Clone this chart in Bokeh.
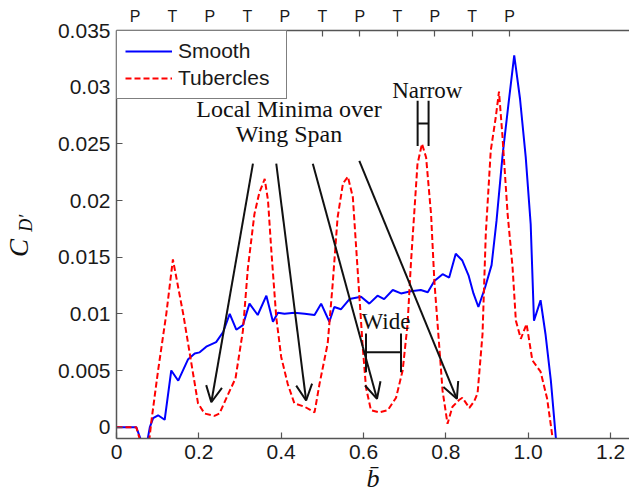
from bokeh.plotting import figure
from bokeh.models import (Range1d, LinearAxis, FixedTicker, Legend, LegendItem,
                          Label, Arrow, OpenHead)
from bokeh.embed import file_html
from bokeh.resources import INLINE

# ---------------- data ----------------
smooth_x = [0.000, 0.048, 0.064, 0.072, 0.081, 0.089, 0.101, 0.117, 0.133, 0.150,
            0.174, 0.190, 0.202, 0.218, 0.242, 0.259, 0.275, 0.291, 0.307, 0.323,
            0.343, 0.364, 0.380, 0.392, 0.408, 0.432, 0.457, 0.481, 0.497, 0.517,
            0.529, 0.545, 0.566, 0.594, 0.614, 0.634, 0.650, 0.671, 0.691, 0.715,
            0.739, 0.756, 0.772, 0.792, 0.808, 0.824, 0.840, 0.855, 0.867, 0.879,
            0.895, 0.911, 0.923, 0.938, 0.952, 0.966, 0.980, 0.994, 1.006, 1.014,
            1.030, 1.042, 1.055, 1.067, 1.072]
smooth_y = [0.0000, 0.0000, -0.0016, -0.0018, 0.0000, 0.0008, 0.00105, 0.00065, 0.0050, 0.0041,
            0.0060, 0.0065, 0.0066, 0.0071, 0.0075, 0.0084, 0.0100, 0.0086, 0.0090, 0.0109,
            0.0099, 0.0116, 0.0093, 0.0101, 0.0100, 0.0101, 0.0100, 0.0099, 0.0109, 0.0093,
            0.0106, 0.0104, 0.0113, 0.0115, 0.0109, 0.0116, 0.0113, 0.0121, 0.0118, 0.0120,
            0.0121, 0.0119, 0.0129, 0.0135, 0.0132, 0.0153, 0.0147, 0.0134, 0.0118, 0.0106,
            0.0123, 0.0143, 0.0182, 0.0241, 0.0285, 0.0328, 0.0290, 0.0238, 0.0179, 0.0094,
            0.0112, 0.0082, 0.0041, -0.0009, -0.0020]

tub_x = [0.000, 0.048, 0.060, 0.072, 0.080, 0.085, 0.093, 0.101, 0.121, 0.137,
         0.162, 0.182, 0.198, 0.214, 0.238, 0.250, 0.271, 0.289, 0.307, 0.319,
         0.335, 0.347, 0.360, 0.368, 0.376, 0.388, 0.400, 0.416, 0.432, 0.457,
         0.481, 0.493, 0.513, 0.525, 0.537, 0.550, 0.562, 0.574, 0.582, 0.590,
         0.598, 0.606, 0.618, 0.638, 0.659, 0.679, 0.695, 0.707, 0.715, 0.723,
         0.731, 0.742, 0.752, 0.764, 0.772, 0.784, 0.792, 0.804, 0.816, 0.832,
         0.840, 0.857, 0.869, 0.877, 0.889, 0.897, 0.909, 0.921, 0.929, 0.937,
         0.950, 0.962, 0.970, 0.982, 0.996, 1.010, 1.030, 1.046, 1.059, 1.063]
tub_y = [0.0000, 0.0000, -0.0015, -0.0020, -0.0010, 0.0006, 0.0028, 0.0050, 0.0100, 0.0148,
         0.0100, 0.0056, 0.0021, 0.0012, 0.0010, 0.0012, 0.0029, 0.0043, 0.0085, 0.0140,
         0.0188, 0.0207, 0.0219, 0.0200, 0.0156, 0.0097, 0.0062, 0.0038, 0.0021, 0.0018,
         0.0013, 0.0038, 0.0074, 0.0126, 0.0185, 0.0215, 0.0221, 0.0203, 0.0159, 0.0115,
         0.0071, 0.0035, 0.0015, 0.0013, 0.0015, 0.0026, 0.0050, 0.0091, 0.0144, 0.0188,
         0.0232, 0.0250, 0.0238, 0.0188, 0.0129, 0.0071, 0.0032, 0.0003, 0.0018, 0.0024,
         0.0026, 0.0017, 0.0023, 0.0030, 0.0082, 0.0171, 0.0244, 0.0273, 0.0296, 0.0259,
         0.0188, 0.0141, 0.0094, 0.0078, 0.0091, 0.0059, 0.0049, 0.0025, -0.0009, -0.0020]

x_ticks = [0, 0.2, 0.4, 0.6, 0.8, 1.0, 1.2]
x_tick_labels = ["0", "0.2", "0.4", "0.6", "0.8", "1.0", "1.2"]
y_ticks = [0, 0.005, 0.01, 0.015, 0.02, 0.025, 0.03, 0.035]
y_tick_labels = ["0", "0.005", "0.01", "0.015", "0.02", "0.025", "0.03", "0.035"]
top_ticks = [0.045, 0.136, 0.227, 0.318, 0.409, 0.500, 0.591, 0.682, 0.773, 0.864, 0.955]
top_tick_labels = ["P", "T", "P", "T", "P", "T", "P", "T", "P", "T", "P"]

NB = "\u00a0"

# ---------------- figure ----------------
p = figure(width=629, height=498, x_range=Range1d(0, 1.246), y_range=Range1d(-0.001, 0.035),
           output_backend="svg", toolbar_location=None,
           min_border_left=115, min_border_right=0, min_border_top=30, min_border_bottom=60)
p.grid.visible = False
p.outline_line_color = None
p.background_fill_color = "white"
p.border_fill_color = "white"

SANS = "Liberation Sans"
SERIF = "Liberation Serif"
AX_COLOR = "#555555"
INK = "#111111"


def style_axis(ax, size="21px", standoff=8):
    ax.axis_line_color = AX_COLOR
    ax.axis_line_width = 1.5
    ax.major_tick_line_color = AX_COLOR
    ax.major_tick_line_width = 1.2
    ax.major_tick_in = 6
    ax.major_tick_out = 0
    ax.minor_tick_line_color = None
    ax.major_label_text_font = SANS
    ax.major_label_text_font_size = size
    ax.major_label_text_color = "#1a1a1a"
    ax.major_label_standoff = standoff


def style_title(ax, text, size, standoff):
    ax.axis_label = text
    ax.axis_label_text_font = SERIF
    ax.axis_label_text_font_style = "italic"
    ax.axis_label_text_font_size = size
    ax.axis_label_text_color = INK
    ax.axis_label_standoff = standoff


xa = p.xaxis[0]
xa.ticker = FixedTicker(ticks=x_ticks)
xa.major_label_overrides = dict(zip(x_ticks, x_tick_labels))
style_axis(xa, "21px", 6)
style_title(xa, "b\u0304", "26px", 2)

ya = p.yaxis[0]
ya.ticker = FixedTicker(ticks=y_ticks)
ya.major_label_overrides = dict(zip(y_ticks, y_tick_labels))
style_axis(ya, "21px", 6)
style_title(ya, NB * 5 + "D\u2032", "18px", 19)

# outer left axis carrying only the "C" of the y title
yc = LinearAxis(ticker=FixedTicker(ticks=[]), axis_line_color=None,
                major_tick_line_color=None, minor_tick_line_color=None)
style_title(yc, "C" + NB * 4, "27px", -21)
p.add_layout(yc, "left")

top = LinearAxis(ticker=FixedTicker(ticks=top_ticks),
                 major_label_overrides=dict(zip(top_ticks, top_tick_labels)))
style_axis(top, "16px", 6)
p.add_layout(top, "above")

# ---------------- lines ----------------
r_s = p.line(smooth_x, smooth_y, line_color="#0000ff", line_width=2)
r_t = p.line(tub_x, tub_y, line_color="#ff0000", line_width=2, line_dash="6 3")

legend = Legend(items=[LegendItem(label="Smooth", renderers=[r_s]),
                       LegendItem(label="Tubercles", renderers=[r_t])],
                location="top_left", margin=0, padding=8, spacing=3,
                glyph_width=47, glyph_height=24, label_height=24, label_width=100,
                label_standoff=6,
                border_line_color="black", border_line_width=1.5,
                background_fill_color="white", background_fill_alpha=1,
                label_text_font=SANS, label_text_font_size="21px",
                label_text_color="#1a1a1a")
p.add_layout(legend)

# ---------------- annotations ----------------
def txt(x, y, s, size="24px"):
    p.add_layout(Label(x=x, y=y, text=s, text_font=SERIF, text_font_size=size,
                       text_align="center", text_baseline="middle", text_color=INK))


txt(0.419, 0.0281, "Local Minima over")
txt(0.419, 0.0259, "Wing Span")
txt(0.755, 0.0297, "Narrow", "23px")
txt(0.6545, 0.0093, "Wide", "23px")

arrows = [((0.3314, 0.02325), (0.2303, 0.0022)),
          ((0.388, 0.02325), (0.4606, 0.00235)),
          ((0.4768, 0.02325), (0.6327, 0.0025)),
          ((0.5898, 0.0235), (0.8267, 0.0025))]
for (xs, ys), (xe, ye) in arrows:
    p.add_layout(Arrow(x_start=xs, y_start=ys, x_end=xe, y_end=ye,
                       line_color=INK, line_width=2,
                       end=OpenHead(size=16, line_width=2, line_color=INK)))

brackets = [
    ((0.7314, 0.0288), (0.7314, 0.0248)),
    ((0.758, 0.0288), (0.758, 0.0248)),
    ((0.7314, 0.0268), (0.758, 0.0268)),
    ((0.606, 0.00826), (0.606, 0.00485)),
    ((0.691, 0.00826), (0.691, 0.00485)),
    ((0.606, 0.00661), (0.691, 0.00661)),
]
for (xs, ys), (xe, ye) in brackets:
    p.add_layout(Arrow(x_start=xs, y_start=ys, x_end=xe, y_end=ye, end=None,
                       line_color=INK, line_width=2))

open("out.html", "w").write(file_html(p, INLINE))
